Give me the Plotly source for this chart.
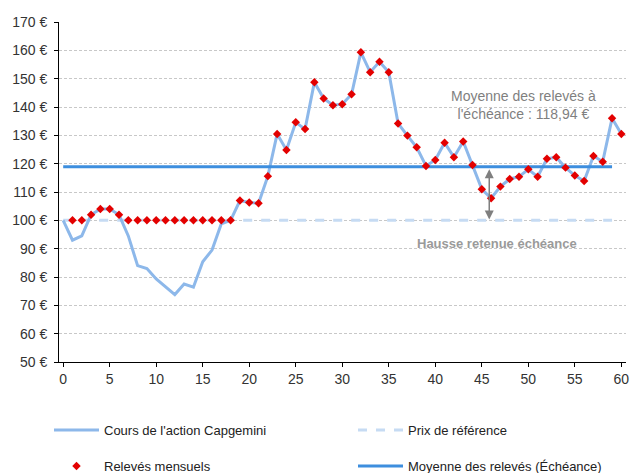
import plotly.graph_objects as go

months = list(range(0, 61))
price = [100, 93, 94.5, 102, 104, 104, 102, 94.5, 84, 83,
         79.3, 76.6, 73.8, 77.5, 76.4, 85.4, 89.5, 98.8, 100, 107,
         106.3, 106, 115.6, 130.5, 124.8, 134.6, 132.2, 148.7, 143, 140.6,
         141, 144.5, 159.3, 152.3, 156, 152.3, 134.2, 129.9, 125.8, 119.2,
         121.3, 127.4, 122.3, 127.8, 119.5, 111, 107.8, 111.9, 114.6, 115.4,
         118, 115.4, 121.7, 122.3, 118.6, 115.8, 113.9, 122.7, 120.7, 136,
         130.5]
obs_months = list(range(1, 61))
observations = [100, 100, 102, 104, 104, 102, 100, 100, 100, 100,
                100, 100, 100, 100, 100, 100, 100, 100, 107, 106.3,
                106, 115.6, 130.5, 124.8, 134.6, 132.2, 148.7, 143, 140.6, 141,
                144.5, 159.3, 152.3, 156, 152.3, 134.2, 129.9, 125.8, 119.2, 121.3,
                127.4, 122.3, 127.8, 119.5, 111, 107.8, 111.9, 114.6, 115.4, 118,
                115.4, 121.7, 122.3, 118.6, 115.8, 113.9, 122.7, 120.7, 136, 130.5]
ref_months = [0, 59]
ref_price = [100, 100]
avg_months = [0, 59]
avg_value = 118.94
arrow_month = 45.8
x_ticks = list(range(0, 61, 5))
y_ticks = list(range(50, 171, 10))
y_tick_labels = [f"{v} €" for v in y_ticks]

FONT = "Liberation Sans, Arial, sans-serif"

# the page body margin is removed, so figure pixels equal screen pixels
W, H = 630, 473
L, T = 59, 22
R = W - 626
B = H - 362
pw, ph = W - L - R, H - T - B


def dom_x(screen_x):
    return (screen_x - L) / pw


def dom_y(screen_y):
    return (H - B - screen_y) / ph


fig = go.Figure()
fig.add_trace(go.Scatter(x=ref_months, y=ref_price, mode="lines",
                         name="Prix de référence",
                         line=dict(color="#c6dbf3", width=3, dash="dash"),
                         legend="legend", legendrank=2, legendwidth=200))
fig.add_trace(go.Scatter(x=months, y=price, mode="lines",
                         name="Cours de l'action Capgemini",
                         line=dict(color="#8db8ea", width=3),
                         legend="legend", legendrank=1, legendwidth=244))
fig.add_trace(go.Scatter(x=avg_months, y=[avg_value, avg_value], mode="lines",
                         name="Moyenne des relevés (Échéance)",
                         line=dict(color="#3d8ede", width=3),
                         legend="legend2", legendrank=2, legendwidth=200))
fig.add_trace(go.Scatter(x=obs_months, y=observations, mode="markers",
                         name="Relevés mensuels",
                         marker=dict(color="#e30000", symbol="diamond", size=6.5),
                         legend="legend2", legendrank=1, legendwidth=244))

fig.add_annotation(x=arrow_month, y=100.3, ax=arrow_month, ay=avg_value - 0.4,
                   xref="x", yref="y", axref="x", ayref="y",
                   text="", showarrow=True, arrowhead=2, arrowside="end+start",
                   arrowsize=1.2, arrowwidth=1.5, arrowcolor="#7f7f7f")
fig.add_annotation(x=dom_x(523), y=dom_y(104.5), xref="x domain", yref="y domain",
                   xanchor="center", yanchor="middle",
                   text="Moyenne des relevés à<br>l'échéance : 118,94 €",
                   showarrow=False,
                   font=dict(family=FONT, size=14, color="#7f7f7f"))
fig.add_annotation(x=dom_x(497), y=dom_y(243), xref="x domain", yref="y domain",
                   xanchor="center", yanchor="middle",
                   text="<b>Hausse retenue échéance</b>", showarrow=False,
                   font=dict(family=FONT, size=13, color="#9a9a9a"))

fig.update_layout(
    width=W, height=H,
    margin=dict(l=L, r=R, t=T, b=B, autoexpand=False),
    paper_bgcolor="white", plot_bgcolor="white",
    font=dict(family=FONT, size=14, color="#333333"),
    xaxis=dict(range=[-0.45, 60.5], tickvals=x_ticks,
               ticks="outside", ticklen=4, tickcolor="black",
               showline=True, linecolor="black", linewidth=1,
               showgrid=False, zeroline=False,
               tickfont=dict(size=14, color="#333333")),
    yaxis=dict(range=[50, 170], tickvals=y_ticks, ticktext=y_tick_labels,
               ticks="outside", ticklen=4, tickcolor="black",
               ticklabelstandoff=4,
               showline=True, linecolor="black", linewidth=1,
               showgrid=True, gridcolor="#c8c8c8", griddash="3px,2px", gridwidth=1,
               zeroline=False, tickfont=dict(size=14, color="#333333")),
    legend=dict(orientation="h", xref="container", yref="container",
                x=49 / W, y=1 - 430 / H, xanchor="left", yanchor="middle",
                itemwidth=45,
                font=dict(size=13, color="#222222"),
                bgcolor="rgba(0,0,0,0)"),
    legend2=dict(orientation="h", xref="container", yref="container",
                 x=49 / W, y=1 - 466 / H, xanchor="left", yanchor="middle",
                 itemwidth=45,
                 font=dict(size=13, color="#222222"),
                 bgcolor="rgba(0,0,0,0)"),
    showlegend=True,
)

fig.write_html("out.html",
               config={"displayModeBar": False},
               post_script="document.body.style.margin='0';document.body.style.overflow='hidden';")
